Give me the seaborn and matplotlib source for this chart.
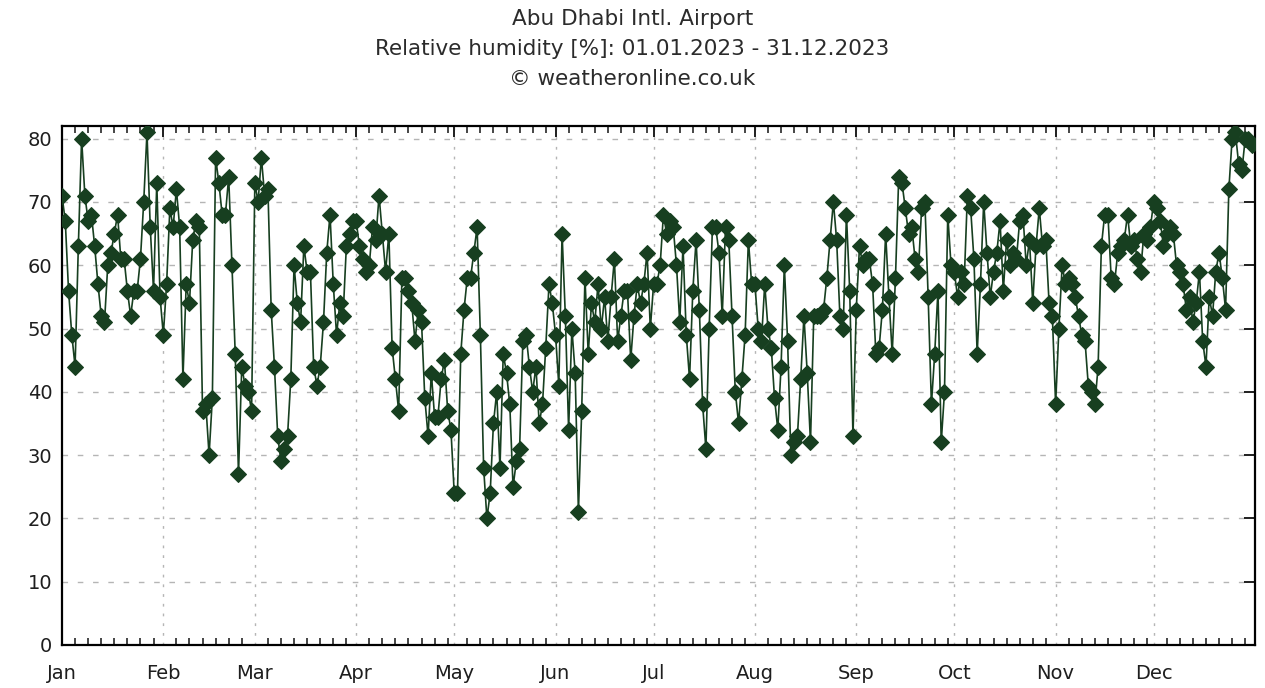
import numpy as np
import pandas as pd
import matplotlib
matplotlib.use("Agg")
import matplotlib.pyplot as plt
import seaborn as sns

# Daily relative humidity [%] at Abu Dhabi Intl. Airport, 2023, one list per month
jan = [71, 67, 56, 49, 44, 63, 80, 71, 67, 68, 63, 57, 52, 51, 60, 62, 65, 68, 61, 61,
       56, 52, 56, 56, 61, 70, 81, 66, 56, 73, 55]
feb = [49, 57, 69, 66, 72, 66, 42, 57, 54, 64, 67, 66, 37, 38, 30, 39, 77, 73, 68, 68,
       74, 60, 46, 27, 44, 41, 40, 37]
mar = [73, 70, 77, 71, 72, 53, 44, 33, 29, 31, 33, 42, 60, 54, 51, 63, 59, 59, 44, 41,
       44, 51, 62, 68, 57, 49, 54, 52, 63, 65, 67]
apr = [67, 63, 61, 59, 60, 66, 64, 71, 65, 59, 65, 47, 42, 37, 58, 58, 56, 54, 48, 53,
       51, 39, 33, 43, 36, 36, 42, 45, 37, 34]
may = [24, 24, 46, 53, 58, 58, 62, 66, 49, 28, 20, 24, 35, 40, 28, 46, 43, 38, 25, 29,
       31, 48, 49, 44, 40, 44, 35, 38, 47, 57, 54]
jun = [49, 41, 65, 52, 34, 50, 43, 21, 37, 58, 46, 54, 51, 57, 50, 55, 48, 55, 61, 48,
       52, 56, 56, 45, 52, 57, 54, 57, 62, 50]
jul = [57, 57, 60, 68, 65, 67, 66, 60, 51, 63, 49, 42, 56, 64, 53, 38, 31, 50, 66, 66,
       62, 52, 66, 64, 52, 40, 35, 42, 49, 64, 57]
aug = [57, 50, 48, 57, 50, 47, 39, 34, 44, 60, 48, 30, 32, 33, 42, 52, 43, 32, 52, 52,
       52, 53, 58, 64, 70, 64, 52, 50, 68, 56, 33]
sep = [53, 63, 60, 61, 61, 57, 46, 47, 53, 65, 55, 46, 58, 74, 73, 69, 65, 66, 61, 59,
       69, 70, 55, 38, 46, 56, 32, 40, 68, 60]
oct_ = [59, 55, 59, 57, 71, 69, 61, 46, 57, 70, 62, 55, 59, 62, 67, 56, 64, 60, 62, 61,
        67, 68, 60, 64, 54, 63, 69, 63, 64, 54, 52]
nov = [38, 50, 60, 57, 58, 57, 55, 52, 49, 48, 41, 40, 38, 44, 63, 68, 68, 58, 57, 62,
       63, 64, 68, 63, 64, 61, 59, 65, 64, 66]
dec = [70, 69, 67, 63, 65, 66, 65, 60, 59, 57, 53, 55, 51, 54, 59, 48, 44, 55, 52, 59,
       62, 58, 53, 72, 80, 81, 76, 75, 80, 80, 79]

month_labels = ["Jan", "Feb", "Mar", "Apr", "May", "Jun",
                "Jul", "Aug", "Sep", "Oct", "Nov", "Dec"]
y_ticks = [0, 10, 20, 30, 40, 50, 60, 70, 80]

months = [jan, feb, mar, apr, may, jun, jul, aug, sep, oct_, nov, dec]
humidity = np.concatenate([np.array(m, dtype=float) for m in months])
month_len = [len(m) for m in months]
month_start = np.concatenate([[1], 1 + np.cumsum(month_len)[:-1]])

df = pd.DataFrame({"day": np.arange(1, len(humidity) + 1), "rh": humidity})

sns.set_theme(style="white")
plt.rcParams["font.family"] = ["DejaVu Sans"]

fig = plt.figure(figsize=(12.65, 6.88), dpi=100)
ax = fig.add_axes([62 / 1265, 1 - 645 / 688, (1255 - 62) / 1265, (645 - 126) / 688])

green = "#173f20"
sns.lineplot(data=df, x="day", y="rh", ax=ax, color=green, linewidth=1.2,
             marker="D", markersize=8, markeredgecolor=green, markerfacecolor=green,
             zorder=3)

ax.set_xlim(1, 366)
ax.set_ylim(0, 82)
ax.set_xlabel("")
ax.set_ylabel("")

# month ticks and grid
ax.set_xticks(month_start)
ax.set_xticklabels(month_labels)
minor = []
ends = list(month_start[1:]) + [366]
for s, e in zip(month_start, ends):
    minor.extend(range(s + 4, e - 1, 4))
ax.set_xticks(minor, minor=True)
ax.set_yticks(y_ticks)

h_grid = dict(color="#b5b5b5", linewidth=1.0, linestyle=(0, (4, 7)), zorder=0)
v_grid = dict(color="#b5b5b5", linewidth=1.0, linestyle=(0, (2, 5)), zorder=0)
for v in y_ticks[1:]:
    ax.axhline(v, **h_grid)
for s in month_start[1:]:
    ax.axvline(s, **v_grid)

ax.tick_params(axis="both", which="major", direction="in", length=8, width=1.4,
               top=True, right=True, labelsize=14, colors="#1e1e1e")
ax.tick_params(axis="x", which="major", pad=14)
ax.tick_params(axis="x", which="minor", direction="in", length=5, width=1.2,
               top=True, bottom=True)
ax.tick_params(axis="y", which="major", pad=7)
for lbl in ax.get_xticklabels() + ax.get_yticklabels():
    lbl.set_color("#1e1e1e")

for sp in ax.spines.values():
    sp.set_visible(True)
    sp.set_color("black")
    sp.set_linewidth(1.6)

title_kw = dict(ha="center", va="center", fontsize=15.5, color="#2b2b2b")
fig.text(0.5, 1 - 19 / 688, "Abu Dhabi Intl. Airport", **title_kw)
fig.text(0.5, 1 - 49 / 688, "Relative humidity [%]: 01.01.2023 - 31.12.2023", **title_kw)
fig.text(0.5, 1 - 79 / 688, "\u00a9 weatheronline.co.uk", **title_kw)

fig.savefig("out.png", dpi=100, facecolor="white")
